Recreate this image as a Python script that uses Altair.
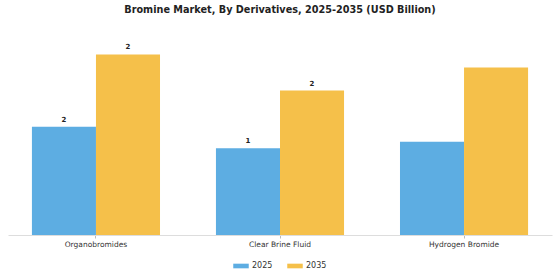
import altair as alt
import pandas as pd

categories = ["Organobromides", "Clear Brine Fluid", "Hydrogen Bromide"]
years = ["2025", "2035"]
values_2025 = [1.5, 1.2, 1.29]
values_2035 = [2.5, 2.0, 2.32]
labels_2025 = ["2", "1", ""]
labels_2035 = ["2", "2", ""]

rows = []
for i, c in enumerate(categories):
    rows.append({"category": c, "year": "2025", "value": values_2025[i], "label": labels_2025[i]})
    rows.append({"category": c, "year": "2035", "value": values_2035[i], "label": labels_2035[i]})
df = pd.DataFrame(rows)

font = "DejaVu Sans"
colors = ["#5DADE2", "#F5C04A"]

x = alt.X("category:N", sort=categories, title=None,
          scale=alt.Scale(paddingInner=0.304, paddingOuter=0.13),
          axis=alt.Axis(labelAngle=0, labelFont=font, labelFontSize=7.5, labelColor="#333333",
                        domainColor="#dddddd", tickColor="#bbbbbb", tickSize=3, labelPadding=2,
                        grid=False))
y = alt.Y("value:Q", scale=alt.Scale(domain=[0, 2.7], nice=False, zero=True), axis=None)
xo = alt.XOffset("year:N", sort=years)

bars = alt.Chart(df).mark_bar().encode(
    x=x, y=y, xOffset=xo,
    color=alt.Color("year:N", sort=years, scale=alt.Scale(domain=years, range=colors),
                    legend=alt.Legend(title=None, orient="none", direction="horizontal",
                                      legendX=225, legendY=218,
                                      symbolType="M-1,-0.3H1V0.3H-1Z", symbolSize=240,
                                      symbolStrokeWidth=0, labelFont=font, labelFontSize=8,
                                      labelColor="#333333", columnPadding=14, labelOffset=3)),
)

text = alt.Chart(df).mark_text(dy=-7, font=font, fontSize=7, fontWeight="bold", color="#222222").encode(
    x=x, y=y, xOffset=xo, text="label:N"
)

chart = (bars + text).properties(
    width=544, height=195,
    title=alt.TitleParams("Bromine Market, By Derivatives, 2025-2035 (USD Billion)",
                          font=font, fontSize=9.7, fontWeight="bold", color="#222222",
                          anchor="middle", offset=25),
    padding={"left": 8, "top": 40, "right": 8, "bottom": 45},
    autosize=alt.AutoSizeParams(type="none"),
    background="white",
).configure_view(strokeWidth=0, stroke=None)

chart.save("out.html", embed_options={"renderer": "svg", "actions": False})
